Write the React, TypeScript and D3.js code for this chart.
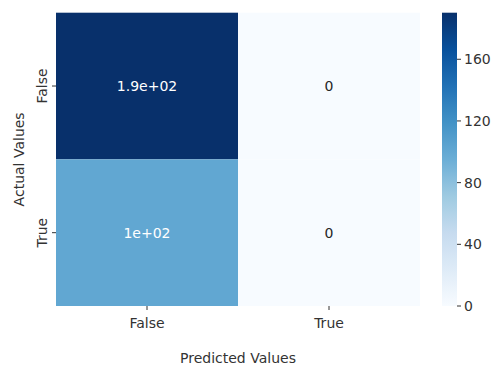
import React from "react";
import * as d3 from "d3";

const predicted = ["False", "True"];
const actual = ["False", "True"];
// rows = actual, columns = predicted
const counts = [
  [190, 0],
  [101, 0],
];
const labels = [
  ["1.9e+02", "0"],
  ["1e+02", "0"],
];
const colorTicks = [0, 40, 80, 120, 160];
// matplotlib "Blues" anchor colours (linear segments)
const bluesAnchors = [
  "#f7fbff", "#deebf7", "#c6dbef", "#9ecae1", "#6baed6",
  "#4292c6", "#2171b5", "#08519c", "#08306b",
];

const blues = d3.piecewise(d3.interpolateRgb, bluesAnchors);

function relLum(c: string) {
  const rgb = d3.rgb(c);
  const lin = (v: number) => {
    const s = v / 255;
    return s <= 0.03928 ? s / 12.92 : Math.pow((s + 0.055) / 1.055, 2.4);
  };
  return 0.2126 * lin(rgb.r) + 0.7152 * lin(rgb.g) + 0.0722 * lin(rgb.b);
}

export default function App() {
  const width = 496;
  const height = 370;
  const left = 56;
  const right = 420;
  const top = 12.7;
  const bottom = 306;
  const cbLeft = 442;
  const cbWidth = 15;
  const vmax = 190.2;
  const font = "'DejaVu Sans', sans-serif";
  const fs = 14;
  const textColor = "#333333";

  const xScale = d3.scaleBand().domain(predicted).range([left, right]);
  const yScale = d3.scaleBand().domain(actual).range([top, bottom]);
  const color = d3.scaleSequential(blues).domain([0, vmax]);
  const cbScale = d3.scaleLinear().domain([0, vmax]).range([bottom, top]);

  const cells = [];
  actual.forEach((a, i) => {
    predicted.forEach((p, j) => {
      cells.push({ a, p, v: counts[i][j], label: labels[i][j] });
    });
  });

  const stops = d3.range(0, 1.0001, 0.0625);

  return (
    <svg
      width={width}
      height={height}
      style={{ position: "absolute", left: 0, top: 0, background: "#fff" }}
      fontFamily={font}
    >
      <defs>
        <linearGradient id="cb" x1="0" y1="1" x2="0" y2="0">
          {stops.map((t) => (
            <stop key={t} offset={t} stopColor={blues(t)} />
          ))}
        </linearGradient>
      </defs>

      {cells.map((c) => (
        <g key={c.a + c.p}>
          <rect
            x={xScale(c.p)}
            y={yScale(c.a)}
            width={xScale.bandwidth()}
            height={yScale.bandwidth()}
            fill={color(c.v)}
          />
          <text
            x={xScale(c.p) + xScale.bandwidth() / 2}
            y={yScale(c.a) + yScale.bandwidth() / 2}
            textAnchor="middle"
            dominantBaseline="central"
            fontSize={fs}
            fill={relLum(color(c.v)) > 0.408 ? "#262626" : "#ffffff"}
          >
            {c.label}
          </text>
        </g>
      ))}

      {/* y axis */}
      {actual.map((a) => {
        const y = yScale(a) + yScale.bandwidth() / 2;
        return (
          <g key={a}>
            <line x1={left - 4} x2={left} y1={y} y2={y} stroke={textColor} strokeWidth={1} />
            <text
              transform={`translate(${left - 9},${y}) rotate(-90)`}
              textAnchor="middle"
              fontSize={fs}
              fill={textColor}
            >
              {a}
            </text>
          </g>
        );
      })}
      <text
        transform={`translate(24,${(top + bottom) / 2}) rotate(-90)`}
        textAnchor="middle"
        fontSize={fs}
        fill={textColor}
      >
        Actual Values
      </text>

      {/* x axis */}
      {predicted.map((p) => {
        const x = xScale(p) + xScale.bandwidth() / 2;
        return (
          <g key={p}>
            <line x1={x} x2={x} y1={bottom} y2={bottom + 4} stroke={textColor} strokeWidth={1} />
            <text x={x} y={bottom + 22} textAnchor="middle" fontSize={fs} fill={textColor}>
              {p}
            </text>
          </g>
        );
      })}
      <text x={(left + right) / 2} y={363} textAnchor="middle" fontSize={fs} fill={textColor}>
        Predicted Values
      </text>

      {/* colorbar */}
      <rect x={cbLeft} y={top} width={cbWidth} height={bottom - top} fill="url(#cb)" />
      {colorTicks.map((t) => (
        <g key={t}>
          <line
            x1={cbLeft + cbWidth}
            x2={cbLeft + cbWidth + 4}
            y1={cbScale(t)}
            y2={cbScale(t)}
            stroke={textColor}
            strokeWidth={1}
          />
          <text
            x={cbLeft + cbWidth + 7}
            y={cbScale(t)}
            dominantBaseline="central"
            fontSize={fs}
            fill={textColor}
          >
            {t}
          </text>
        </g>
      ))}
    </svg>
  );
}
